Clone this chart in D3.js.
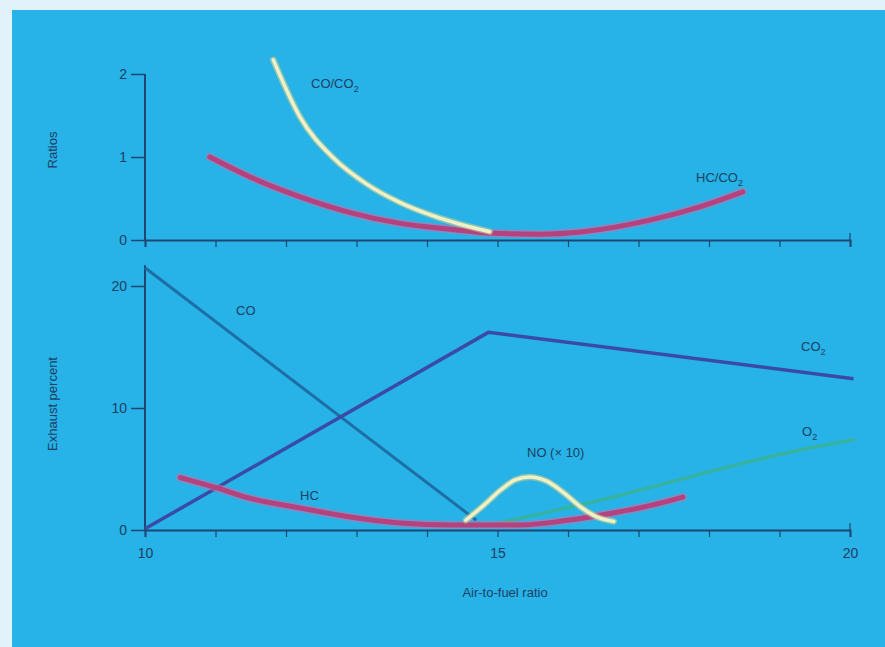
<!DOCTYPE html>
<html>
<head>
<meta charset="utf-8">
<script src="https://cdn.jsdelivr.net/npm/d3@7"></script>
<style>
  body { margin: 0; background: #e2f2fa; }
  svg { display: block; }
  text { font-family: "Liberation Sans", Arial, sans-serif; fill: #1d3f63; }
</style>
</head>
<body>
<svg id="chart" width="885" height="647"></svg>
<script>
// ---- data ----
var xTicks = [10, 11, 12, 13, 14, 15, 16, 17, 18, 19, 20]
var xTickLabels = ["10", "", "", "", "", "15", "", "", "", "", "20"]
var ratioTicks = [0, 1, 2]
var exhaustTicks = [0, 10, 20]

var coCo2 = [[11.82, 2.17], [12.2, 1.48], [12.67, 0.99], [13.15, 0.67],
             [13.62, 0.45], [14.09, 0.29], [14.47, 0.19], [14.89, 0.1]]
var hcCo2 = [[10.92, 1.0], [11.49, 0.76], [12.2, 0.52], [12.91, 0.33], [13.62, 0.2], [14.33, 0.13],
             [14.94, 0.08], [15.6, 0.07], [16.21, 0.1], [17.16, 0.24], [17.87, 0.4], [18.48, 0.58]]

var co = [[10, 21.5], [14.7, 0.8]]
var co2 = [[10, 0.1], [14.87, 16.2], [20.05, 12.4]]
var hc = [[10.5, 4.3], [11.02, 3.45], [11.49, 2.6], [12.2, 1.8], [12.91, 1.07], [13.62, 0.57], [14.33, 0.4],
          [15.28, 0.4], [15.99, 0.8], [16.64, 1.4], [17.16, 2.0], [17.63, 2.7]]
var no = [[14.55, 0.8], [14.8, 2.0], [15.05, 3.3], [15.25, 4.1], [15.45, 4.35], [15.7, 4.0],
          [15.95, 3.0], [16.2, 1.8], [16.4, 1.1], [16.65, 0.7]]
var o2 = [[14.8, 0.3], [15.5, 1.2], [16.5, 2.5], [17.5, 4.0], [18.5, 5.5], [19.5, 6.8], [20.05, 7.4]]

var svg = d3.select("#chart")

svg.append("rect").attr("x", 12).attr("y", 10).attr("width", 873).attr("height", 637).attr("fill", "#27b3e7")

var x = d3.scaleLinear().domain([10, 20]).range([145, 850])
var yR = d3.scaleLinear().domain([0, 2]).range([240, 74])
var yE = d3.scaleLinear().domain([0, 20]).range([530, 286])

var axisColor = "#1f4673"

function drawAxes(y, ticks, yTop, baseY, showLabels) {
    // y axis
    var ya = svg.append("g").attr("transform", "translate(" + x(10) + ",0)")
        .call(d3.axisLeft(y).tickValues(ticks).tickSize(14).tickPadding(4).tickFormat(d3.format("d")))
    ya.select(".domain").remove()
    ya.append("line").attr("x1", 0).attr("x2", 0).attr("y1", y(0)).attr("y2", y(yTop))
        .attr("stroke", axisColor).attr("stroke-width", 2)
    ya.selectAll(".tick line").attr("stroke", axisColor).attr("stroke-width", 1.5).attr("x2", -14)
    ya.selectAll(".tick text").style("font-size", "14px").attr("fill", "#1d3f63")

    // x axis
    var xa = svg.append("g").attr("transform", "translate(0," + baseY + ")")
        .call(d3.axisBottom(x).tickValues(xTicks).tickSize(7).tickPadding(6)
            .tickFormat(function(d, i) { return showLabels ? xTickLabels[i] : "" }))
    xa.select(".domain").attr("stroke", axisColor).attr("stroke-width", 2)
    xa.selectAll(".tick line").attr("stroke", axisColor).attr("stroke-width", 1.2)
    xa.selectAll(".tick text").style("font-size", "14px").attr("fill", "#1d3f63")
    xa.append("line").attr("x1", x(20)).attr("x2", x(20)).attr("y1", -7).attr("y2", 0)
        .attr("stroke", axisColor).attr("stroke-width", 1.2)
    return xa
}

drawAxes(yR, ratioTicks, 2, yR(0), false)
var bottomX = drawAxes(yE, exhaustTicks, 21.7, yE(0), true)
bottomX.selectAll(".tick text").attr("dy", "1.1em")

function curve(data, y, color, width, glow) {
    var line = d3.line().x(function(d) { return x(d[0]) }).y(function(d) { return y(d[1]) }).curve(d3.curveMonotoneX)
    if (glow) {
        svg.append("path").attr("d", line(data)).attr("fill", "none")
            .attr("stroke", glow).attr("stroke-width", width + 3).attr("stroke-linecap", "round").attr("opacity", 0.6)
    }
    svg.append("path").attr("d", line(data)).attr("fill", "none")
        .attr("stroke", color).attr("stroke-width", width).attr("stroke-linecap", "round")
}

function straight(data, y, color, width) {
    var line = d3.line().x(function(d) { return x(d[0]) }).y(function(d) { return y(d[1]) })
    svg.append("path").attr("d", line(data)).attr("fill", "none")
        .attr("stroke", color).attr("stroke-width", width).attr("stroke-linejoin", "round")
}

// top panel
curve(hcCo2, yR, "#b3427f", 5, "#c86fa6")
curve(coCo2, yR, "#eef0c8", 3.5, "#c9cf8f")

// bottom panel
straight(co, yE, "#1d6fa6", 3)
straight(co2, yE, "#3a4ba5", 3.5)
curve(o2, yE, "#35b3a0", 3.5, null)
curve(hc, yE, "#b3427f", 5, "#c86fa6")
curve(no, yE, "#eef0c8", 3.5, "#c9cf8f")

// labels
function label(txt, sub, lx, ly) {
    var t = svg.append("text").attr("x", lx).attr("y", ly).style("font-size", "13px")
    t.append("tspan").text(txt)
    if (sub) t.append("tspan").attr("dy", 4).style("font-size", "9px").text(sub)
}
label("CO/CO", "2", 311, 88)
label("HC/CO", "2", 696, 182)
label("CO", null, 236, 315)
label("HC", null, 300, 500)
label("NO (× 10)", null, 527, 457)
label("CO", "2", 801, 351)
label("O", "2", 802, 436)

svg.append("text").attr("x", 505).attr("y", 597).attr("text-anchor", "middle")
    .style("font-size", "13px").text("Air-to-fuel ratio")
svg.append("text").attr("transform", "translate(57,150) rotate(-90)").attr("text-anchor", "middle")
    .style("font-size", "13px").text("Ratios")
svg.append("text").attr("transform", "translate(57,404) rotate(-90)").attr("text-anchor", "middle")
    .style("font-size", "13px").text("Exhaust percent")
</script>
</body>
</html>
